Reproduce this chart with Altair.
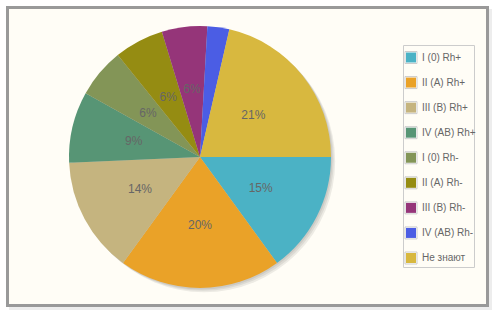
import altair as alt
import pandas as pd
import math

labels = ["I (0) Rh+", "II (A) Rh+", "III (B) Rh+", "IV (AB) Rh+", "I (0) Rh-",
          "II (A) Rh-", "III (B) Rh-", "IV (AB) Rh-", "Не знают"]
values = [15, 20, 14.3, 8.8, 6.1, 6.1, 5.6, 2.7, 21.4]
colors = ["#4bb2c5", "#eaa228", "#c5b47f", "#579575", "#839557",
          "#958c12", "#953579", "#4b5de4", "#d8b83f"]

df = pd.DataFrame({"label": labels, "value": values, "order": list(range(len(labels)))})
one = pd.DataFrame({"k": [0]})

CX, CY, R = 200, 157, 131
FONT = "Liberation Sans"

color = alt.Color("label:N", scale=alt.Scale(domain=labels, range=colors), legend=None)
theta_scale = alt.Scale(range=[math.pi / 2, math.pi / 2 + 2 * math.pi])

# frame
frame_shadow = alt.Chart(one).mark_rect(fill="#000", opacity=0.07, stroke=None).encode(
    x=alt.value(9), x2=alt.value(492), y=alt.value(9), y2=alt.value(310))
frame = alt.Chart(one).mark_rect(fill="#fffdf6", stroke="#999999", strokeWidth=3).encode(
    x=alt.value(7.5), x2=alt.value(487.5), y=alt.value(7.5), y2=alt.value(305.5))

# pie shadow
shadows = []
for d in [1.4, 2.8, 4.2]:
    shadows.append(alt.Chart(one).mark_arc(theta=0, theta2=2 * math.pi, radius=R,
                                           fill="#000", opacity=0.07).encode(
        x=alt.value(CX + d), y=alt.value(CY + d)))

pie = alt.Chart(df).mark_arc(radius=R, stroke=None).encode(
    theta=alt.Theta("value:Q", stack=True, scale=theta_scale),
    order=alt.Order("order:Q"),
    color=color,
    x=alt.value(CX), y=alt.value(CY))

text = alt.Chart(df).transform_joinaggregate(total="sum(value)").transform_calculate(
    pct="datum.value / datum.total * 100",
    txt="datum.pct >= 3 ? format(datum.pct, '.0f') + '%' : ''"
).mark_text(radius=R * 0.52, font=FONT, fontSize=12, color="#666666").encode(
    theta=alt.Theta("value:Q", stack=True, scale=theta_scale),
    order=alt.Order("order:Q"),
    text="txt:N",
    x=alt.value(CX), y=alt.value(CY))

# legend
ly = alt.Y("label:N", scale=alt.Scale(type="point", domain=labels, range=[57.5, 258], padding=0), axis=None)
legend_box = alt.Chart(one).mark_rect(fill="#fffdf6", stroke="#cccccc", strokeWidth=1).encode(
    x=alt.value(403.5), x2=alt.value(474.5), y=alt.value(45.5), y2=alt.value(267.5))
sw_outer = alt.Chart(df).mark_square(size=144, fill="#ffffff", stroke="#cccccc", strokeWidth=1,
                                     opacity=1).encode(
    x=alt.value(411), y=ly)
sw_inner = alt.Chart(df).mark_square(size=100, opacity=1).encode(
    x=alt.value(411), y=ly, color=color)
lg_text = alt.Chart(df).mark_text(align="left", baseline="middle", font=FONT, fontSize=10,
                                  color="#666666").encode(
    x=alt.value(422), y=ly, text="label:N")

chart = alt.layer(frame_shadow, frame, *shadows, pie, text, legend_box, sw_outer, sw_inner, lg_text).properties(
    width=496, height=318, autosize=alt.AutoSizeParams(type="none"), padding=0,
    background="#ffffff"
).configure_view(stroke=None)

chart.save("out.html", embed_options={"renderer": "svg", "actions": False})
